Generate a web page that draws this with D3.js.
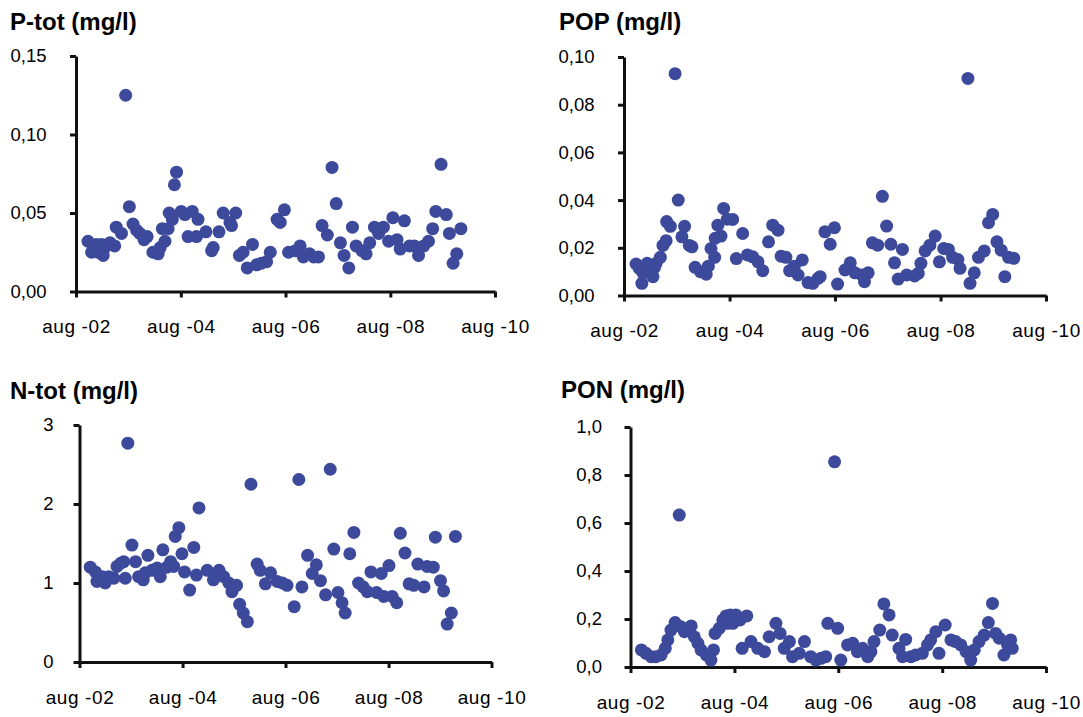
<!DOCTYPE html>
<html>
<head>
<meta charset="utf-8">
<script src="https://cdn.jsdelivr.net/npm/d3@7"></script>
<style>
  body { margin: 0; background: #ffffff; }
  svg { display: block; }
  .title { font-family: "Liberation Sans", Arial, sans-serif; font-weight: bold; font-size: 24px; fill: #000; }
  .axis text { font-family: "Liberation Sans", Arial, sans-serif; font-size: 18.5px; fill: #000; }
  .axis.x text { font-size: 19px; letter-spacing: 0.6px; }
</style>
</head>
<body>
<svg id="chart" width="1083" height="717"></svg>
<script>
// Sampling dates (decimal years) and measured concentrations, mg/l
const ptotDates = [2002.81,2002.88,2002.91,2002.97,2003.00,2003.07,2003.10,2003.13,2003.23,2003.32,2003.35,2003.45,2003.53,2003.60,2003.67,2003.74,2003.80,2003.88,2003.94,2004.05,2004.15,2004.19,2004.23,2004.28,2004.34,2004.36,2004.42,2004.46,2004.50,2004.59,2004.66,2004.72,2004.80,2004.88,2004.91,2005.06,2005.17,2005.20,2005.31,2005.39,2005.52,2005.55,2005.63,2005.70,2005.77,2005.85,2005.95,2006.03,2006.12,2006.22,2006.29,2006.42,2006.48,2006.56,2006.64,2006.77,2006.86,2006.92,2007.04,2007.12,2007.21,2007.28,2007.38,2007.47,2007.55,2007.63,2007.70,2007.79,2007.86,2007.93,2008.04,2008.12,2008.19,2008.28,2008.36,2008.45,2008.55,2008.63,2008.71,2008.77,2008.85,2008.95,2009.04,2009.12,2009.22,2009.31,2009.39,2009.45,2009.55,2009.65,2009.71,2009.78,2009.85,2009.93];
const ptotValues = [0.032,0.025,0.029,0.030,0.025,0.030,0.023,0.028,0.031,0.029,0.041,0.037,0.125,0.054,0.043,0.039,0.037,0.033,0.035,0.025,0.024,0.028,0.040,0.032,0.040,0.050,0.046,0.068,0.076,0.051,0.049,0.035,0.051,0.035,0.046,0.038,0.026,0.028,0.038,0.050,0.044,0.042,0.050,0.023,0.025,0.015,0.030,0.017,0.018,0.019,0.025,0.046,0.044,0.052,0.025,0.026,0.029,0.022,0.024,0.022,0.022,0.042,0.036,0.079,0.056,0.031,0.023,0.015,0.041,0.029,0.026,0.024,0.031,0.041,0.037,0.041,0.032,0.047,0.033,0.027,0.045,0.029,0.029,0.023,0.029,0.032,0.040,0.051,0.081,0.049,0.037,0.018,0.024,0.040];

const popDates = [2002.81,2002.87,2002.92,2002.94,2003.02,2003.03,2003.13,2003.16,2003.19,2003.27,2003.32,2003.38,2003.39,2003.46,2003.55,2003.61,2003.68,2003.73,2003.82,2003.87,2003.93,2004.03,2004.14,2004.18,2004.23,2004.30,2004.31,2004.36,2004.42,2004.47,2004.54,2004.64,2004.71,2004.83,2004.92,2005.02,2005.12,2005.21,2005.32,2005.40,2005.50,2005.56,2005.65,2005.72,2005.81,2005.88,2005.96,2006.07,2006.16,2006.26,2006.30,2006.39,2006.49,2006.57,2006.63,2006.77,2006.87,2006.96,2007.09,2007.14,2007.21,2007.29,2007.39,2007.48,2007.56,2007.64,2007.71,2007.78,2007.86,2007.94,2008.09,2008.16,2008.21,2008.29,2008.38,2008.48,2008.56,2008.64,2008.73,2008.81,2008.91,2008.95,2009.10,2009.14,2009.22,2009.30,2009.41,2009.49,2009.57,2009.65,2009.73,2009.80,2009.87,2009.97];
const popValues = [0.0132,0.0114,0.0051,0.0095,0.0135,0.0110,0.0079,0.0118,0.0135,0.0160,0.0210,0.0230,0.0310,0.0290,0.0930,0.0400,0.0246,0.0290,0.0210,0.0204,0.0118,0.0100,0.0089,0.0123,0.0197,0.0160,0.0240,0.0295,0.0249,0.0365,0.0320,0.0319,0.0155,0.0260,0.0170,0.0162,0.0141,0.0104,0.0225,0.0295,0.0274,0.0165,0.0160,0.0104,0.0123,0.0086,0.0149,0.0054,0.0051,0.0072,0.0079,0.0267,0.0215,0.0284,0.0048,0.0107,0.0137,0.0095,0.0086,0.0058,0.0095,0.0221,0.0211,0.0416,0.0291,0.0215,0.0137,0.0069,0.0193,0.0086,0.0082,0.0093,0.0135,0.0187,0.0211,0.0249,0.0141,0.0197,0.0193,0.0160,0.0151,0.0114,0.0910,0.0051,0.0095,0.0160,0.0187,0.0305,0.0340,0.0225,0.0190,0.0079,0.0160,0.0156];

const ntotDates = [2002.79,2002.89,2002.92,2003.02,2003.08,2003.15,2003.25,2003.31,2003.38,2003.44,2003.47,2003.52,2003.60,2003.67,2003.73,2003.82,2003.86,2003.91,2003.99,2004.09,2004.15,2004.20,2004.28,2004.35,2004.41,2004.44,2004.51,2004.57,2004.62,2004.72,2004.80,2004.85,2004.90,2005.06,2005.18,2005.29,2005.38,2005.48,2005.54,2005.63,2005.69,2005.76,2005.84,2005.91,2006.03,2006.09,2006.19,2006.29,2006.42,2006.52,2006.61,2006.75,2006.84,2006.90,2007.01,2007.10,2007.18,2007.26,2007.36,2007.45,2007.52,2007.60,2007.68,2007.74,2007.83,2007.91,2008.00,2008.09,2008.17,2008.24,2008.35,2008.44,2008.49,2008.59,2008.65,2008.74,2008.81,2008.90,2008.98,2009.07,2009.15,2009.27,2009.33,2009.45,2009.49,2009.59,2009.65,2009.72,2009.80,2009.88];
const ntotValues = [1.20,1.14,1.02,1.08,1.00,1.08,1.06,1.21,1.25,1.27,1.06,2.77,1.48,1.27,1.08,1.04,1.13,1.35,1.16,1.19,1.08,1.42,1.20,1.27,1.21,1.59,1.70,1.37,1.14,0.91,1.45,1.10,1.95,1.16,1.04,1.16,1.08,1.00,0.89,0.97,0.73,0.62,0.51,2.25,1.24,1.16,0.99,1.13,1.02,1.00,0.97,0.70,2.31,0.95,1.35,1.12,1.23,1.03,0.85,2.44,1.43,0.88,0.75,0.62,1.37,1.64,1.00,0.95,0.89,1.14,0.88,1.12,0.83,1.22,0.83,0.75,1.63,1.38,0.99,0.97,1.24,0.95,1.21,1.20,1.58,1.03,0.90,0.48,0.62,1.59];

const ponDates = [2002.79,2002.88,2002.98,2003.07,2003.17,2003.25,2003.30,2003.36,2003.44,2003.52,2003.55,2003.62,2003.75,2003.81,2003.88,2003.94,2004.04,2004.13,2004.18,2004.21,2004.29,2004.36,2004.42,2004.45,2004.50,2004.55,2004.61,2004.69,2004.73,2004.82,2004.90,2005.03,2005.16,2005.25,2005.38,2005.46,2005.54,2005.64,2005.70,2005.83,2005.93,2006.05,2006.15,2006.25,2006.34,2006.38,2006.51,2006.57,2006.63,2006.76,2006.86,2006.95,2007.05,2007.15,2007.21,2007.27,2007.38,2007.46,2007.56,2007.62,2007.75,2007.82,2007.88,2007.98,2008.07,2008.20,2008.30,2008.36,2008.46,2008.52,2008.64,2008.75,2008.84,2008.94,2009.04,2009.13,2009.20,2009.29,2009.39,2009.47,2009.55,2009.61,2009.68,2009.77,2009.84,2009.90,2009.93];
const ponValues = [0.071,0.057,0.043,0.043,0.050,0.078,0.113,0.154,0.185,0.633,0.168,0.147,0.171,0.126,0.099,0.071,0.050,0.029,0.071,0.140,0.161,0.196,0.213,0.182,0.217,0.182,0.217,0.196,0.078,0.213,0.106,0.078,0.064,0.126,0.182,0.140,0.078,0.106,0.043,0.057,0.106,0.043,0.029,0.036,0.043,0.182,0.855,0.161,0.029,0.092,0.099,0.064,0.078,0.043,0.064,0.106,0.154,0.263,0.217,0.133,0.078,0.043,0.115,0.043,0.050,0.057,0.092,0.113,0.147,0.057,0.175,0.113,0.106,0.092,0.064,0.029,0.071,0.106,0.133,0.185,0.265,0.140,0.120,0.050,0.092,0.113,0.078];

// Shared axis content
const xTickYears = [2002, 2004, 2006, 2008, 2010];
const ptotTicks = [0, 0.05, 0.10, 0.15];
const popTicks = [0, 0.02, 0.04, 0.06, 0.08, 0.10];
const ntotTicks = [0, 1, 2, 3];
const ponTicks = [0, 0.2, 0.4, 0.6, 0.8, 1.0];

const swedish = d3.formatLocale({ decimal: ",", thousands: "\u00a0", grouping: [3], currency: ["", " kr"] });
const yearLabel = d3.timeFormat("%y");

function yearToDate(t) {
  const y = Math.floor(t);
  const a = new Date(y, 0, 1).getTime(), b = new Date(y + 1, 0, 1).getTime();
  return new Date(a + (t - y) * (b - a));
}

const panels = [
  { title: "P-tot (mg/l)", dates: ptotDates, values: ptotValues, ticks: ptotTicks, fmt: swedish.format(".2f"),
    left: 76, right: 495, top: 56, bottom: 291.5, titleX: 10, titleY: 30, labelGap: 23.5 },
  { title: "POP (mg/l)", dates: popDates, values: popValues, ticks: popTicks, fmt: swedish.format(".2f"),
    left: 624, right: 1046, top: 57, bottom: 295.5, titleX: 559, titleY: 30, labelGap: 23.5 },
  { title: "N-tot (mg/l)", dates: ntotDates, values: ntotValues, ticks: ntotTicks, fmt: swedish.format("d"),
    left: 79.5, right: 491.5, top: 425, bottom: 662, titleX: 10, titleY: 399, labelGap: 20 },
  { title: "PON (mg/l)", dates: ponDates, values: ponValues, ticks: ponTicks, fmt: swedish.format(".1f"),
    left: 630.5, right: 1046, top: 427, bottom: 667, titleX: 561, titleY: 398, labelGap: 22.5 }
];

const svg = d3.select("#chart");
const dotColor = "#3d4a9b";
const axisColor = "#111111";

function styleAxis(g) {
  g.selectAll(".domain, .tick line")
    .attr("stroke", axisColor)
    .attr("stroke-width", 3);
}

panels.forEach(p => {
  const x = d3.scaleTime()
    .domain([new Date(xTickYears[0], 7, 1), new Date(xTickYears[xTickYears.length - 1], 7, 1)])
    .range([p.left, p.right]);
  const y = d3.scaleLinear()
    .domain([p.ticks[0], p.ticks[p.ticks.length - 1]])
    .range([p.bottom, p.top]);

  svg.append("text").attr("class", "title")
    .attr("x", p.titleX).attr("y", p.titleY).text(p.title);

  const xAxis = svg.append("g").attr("class", "axis x")
    .attr("transform", `translate(0,${p.bottom})`)
    .call(d3.axisBottom(x)
      .tickValues(xTickYears.map(yr => new Date(yr, 7, 1)))
      .tickSize(6).tickSizeOuter(0)
      .tickFormat(d => "aug -" + yearLabel(d)))
    .call(styleAxis);
  xAxis.selectAll("text").attr("y", 41.5).attr("dy", null);

  svg.append("g").attr("class", "axis y")
    .attr("transform", `translate(${p.left},0)`)
    .call(d3.axisLeft(y)
      .tickValues(p.ticks)
      .tickSize(6).tickSizeOuter(0).tickPadding(p.labelGap)
      .tickFormat(p.fmt))
    .call(styleAxis);

  const pts = p.dates.map((d, i) => ({ date: yearToDate(d), value: p.values[i] }));
  svg.append("g").selectAll("circle").data(pts).join("circle")
    .attr("cx", d => x(d.date))
    .attr("cy", d => y(d.value))
    .attr("r", 6.5)
    .attr("fill", dotColor);
});
</script>
</body>
</html>
